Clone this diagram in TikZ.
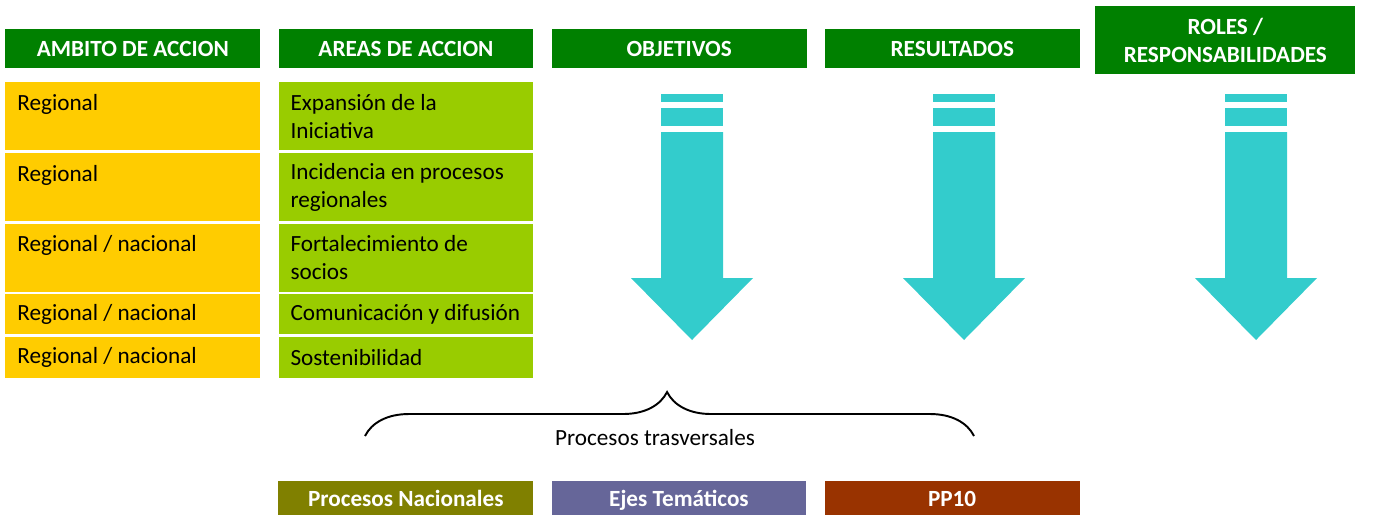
\documentclass[tikz,border=0pt]{standalone}
\usepackage{fontspec}
\setmainfont{Carlito}
\usepackage{tikz}
\usetikzlibrary{positioning, decorations.pathreplacing}

\definecolor{hdrgreen}{HTML}{008000}
\definecolor{ambito}{HTML}{FFCC00}
\definecolor{areas}{HTML}{99CC00}
\definecolor{flecha}{HTML}{33CCCC}
\definecolor{olivo}{HTML}{808000}
\definecolor{lila}{HTML}{666699}
\definecolor{ladrillo}{HTML}{993300}

\begin{document}
\begin{tikzpicture}[
    x=0.02cm, y=-0.02cm,
    node distance=0.04cm and 0.35cm,
    header/.style={rectangle, fill=hdrgreen, text=white, font=\fontsize{13.2}{16.4}\selectfont\bfseries, minimum width=5.1cm, minimum height=0.78cm, inner sep=0pt, align=center},
    cell/.style={rectangle, minimum width=5.1cm, text width=4.62cm, inner xsep=0.24cm, inner ysep=0pt, align=flush left, font=\fontsize{13.2}{15.9}\selectfont},
    ambitocell/.style={cell, fill=ambito},
    areacell/.style={cell, fill=areas},
    footer/.style={rectangle, text=white, font=\fontsize{13.2}{15}\selectfont\bfseries, minimum width=5.1cm, minimum height=0.68cm, text height=2.1ex, text depth=0.2ex, inner sep=0pt}
]
\useasboundingbox (0,0) rectangle (1382,515);

% Headers
\node[header, anchor=north west] (ambito) at (5,29) {AMBITO DE ACCION};
\node[header, right=of ambito] (areas) {AREAS DE ACCION};
\node[header, right=of areas] (objetivos) {OBJETIVOS};
\node[header, right=of objetivos] (resultados) {RESULTADOS};
\node[header, anchor=north west, minimum width=5.2cm, minimum height=1.36cm] (roles) at (1095,6) {ROLES /\\RESPONSABILIDADES};

% Ambito de accion
\node[ambitocell, anchor=north west, minimum height=1.36cm] (amb1) at (5,82) {Regional\\\mbox{}};
\node[ambitocell, below=of amb1, minimum height=1.36cm] (amb2) {Regional\\\mbox{}};
\node[ambitocell, below=of amb2, minimum height=1.36cm] (amb3) {Regional / nacional\\\mbox{}};
\node[ambitocell, below=of amb3, minimum height=0.8cm] (amb4) {Regional / nacional};
\node[ambitocell, below=of amb4, minimum height=0.82cm] (amb5) {Regional / nacional};

% Areas de accion
\node[areacell, right=of amb1, minimum height=1.36cm] (area1) {Expansión de la\\Iniciativa};
\node[areacell, right=of amb2, minimum height=1.36cm] (area2) {Incidencia en procesos\\regionales};
\node[areacell, right=of amb3, minimum height=1.36cm] (area3) {Fortalecimiento de\\socios};
\node[areacell, right=of amb4, minimum height=0.8cm] (area4) {Comunicación y difusión};
\node[areacell, right=of amb5, minimum height=0.82cm] (area5) {Sostenibilidad};

% Flechas
\foreach \cx in {692,964,1256}{
  \fill[flecha] (\cx-31,94) rectangle (\cx+31,102);
  \fill[flecha] (\cx-31,108) rectangle (\cx+31,126);
  \fill[flecha] (\cx-31,132) -- (\cx+31,132) -- (\cx+31,278) -- (\cx+61,278)
    -- (\cx,340) -- (\cx-61,278) -- (\cx-31,278) -- cycle;
}

% Procesos trasversales
\coordinate (braceL) at (365,436);
\coordinate (braceR) at (974,436);
\draw[line width=1.1pt, decorate, decoration={brace, amplitude=0.88cm, aspect=0.496}] (braceL) -- (braceR);
\node[font=\fontsize{13.2}{15}\selectfont] (trans) at (655,438) {Procesos trasversales};

% Footers
\node[footer, fill=olivo, anchor=north west] (nacionales) at (278,481) {Procesos Nacionales};
\node[footer, fill=lila, right=of nacionales] (ejes) {Ejes Temáticos};
\node[footer, fill=ladrillo, right=of ejes] (pp10) {PP10};

\end{tikzpicture}
\end{document}
